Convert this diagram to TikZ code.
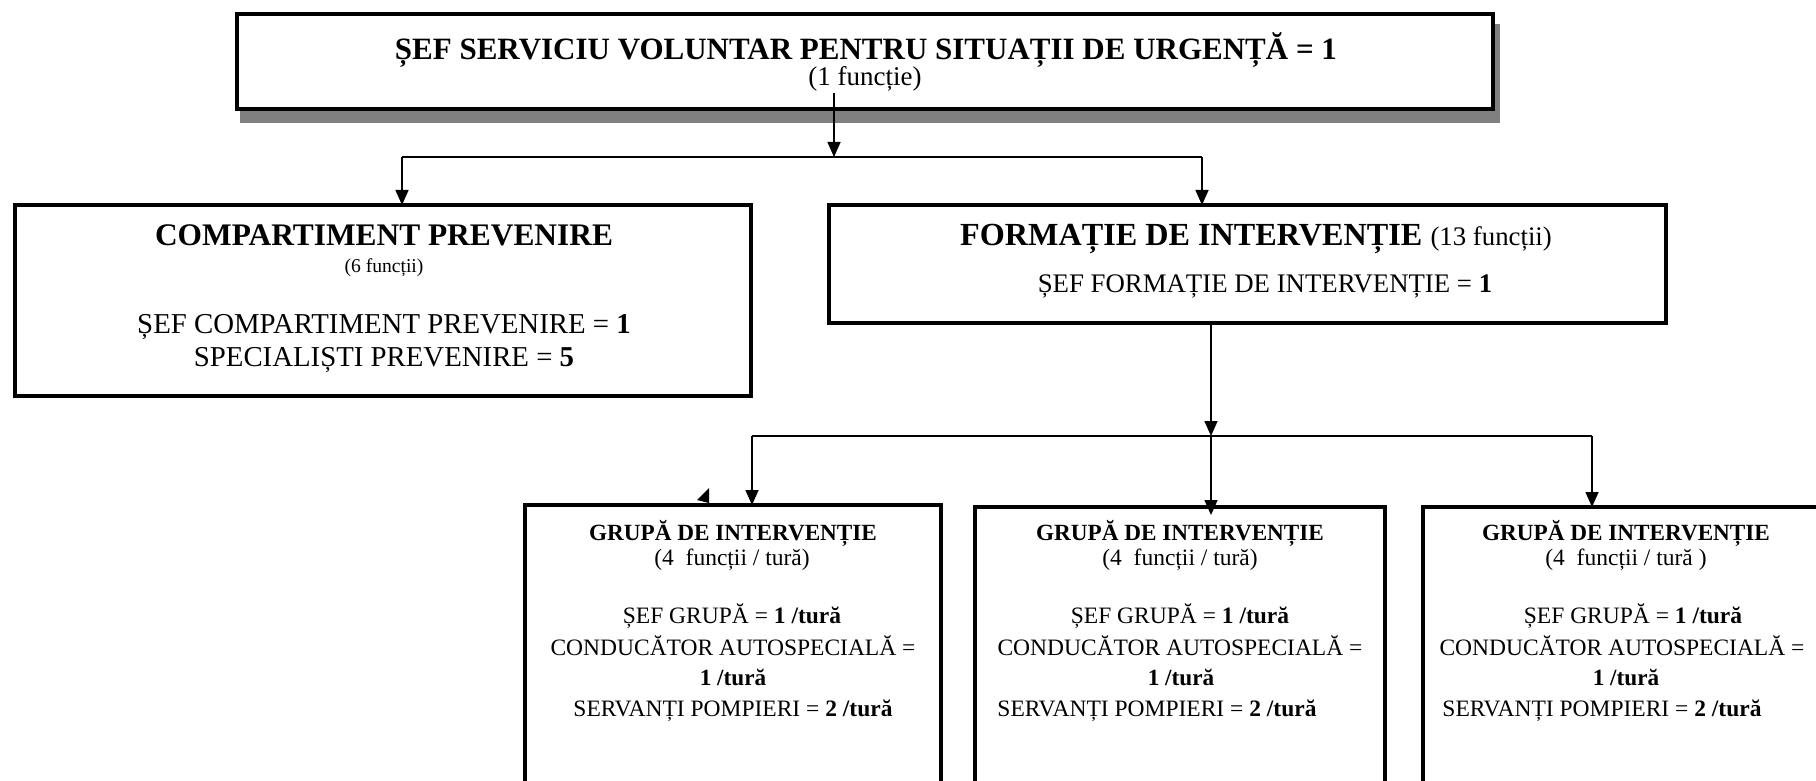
\documentclass[tikz,border=0pt]{standalone}
\usepackage{fontspec}
\setmainfont{Liberation Serif}
\usetikzlibrary{arrows.meta}
\begin{document}
\begin{tikzpicture}[x=0.5pt,y=-0.5pt,
  box/.style={draw, line width=2.2pt, fill=white, inner sep=0pt, outer sep=0pt, anchor=north west},
  shadowbox/.style={fill=black!50, draw=none, inner sep=0pt, outer sep=0pt, anchor=north west},
  conn/.style={line width=0.8pt},
  arr/.style={conn, -{Triangle[length=7.5pt,width=6.5pt]}},
  hdA/.style={font=\fontsize{15.5}{18}\selectfont\bfseries, anchor=base, inner sep=0pt},
  hdB/.style={font=\fontsize{15.7}{18}\selectfont\bfseries, anchor=base, inner sep=0pt},
  hdC/.style={font=\fontsize{16.1}{18}\selectfont\bfseries, anchor=base, inner sep=0pt},
  txtA/.style={font=\fontsize{14.4}{17}\selectfont, anchor=base, inner sep=0pt},
  txtB/.style={font=\fontsize{13.4}{16}\selectfont, anchor=base, inner sep=0pt},
  subA/.style={font=\fontsize{13.5}{16}\selectfont, anchor=base, inner sep=0pt},
  sml/.style={font=\fontsize{9.8}{12}\selectfont, anchor=base, inner sep=0pt},
  grp/.style={font=\fontsize{11.75}{14}\selectfont, anchor=base, inner sep=0pt},
  grpb/.style={font=\fontsize{11.6}{14}\selectfont\bfseries, anchor=base, inner sep=0pt}]
\useasboundingbox (0,0) rectangle (1816,781);
\clip (0,0) rectangle (1816,781);
% top box with shadow
\node[shadowbox, minimum width=630pt, minimum height=49.5pt] (sh1) at (240,24) {};
\node[box, minimum width=628pt, minimum height=47.5pt] (b1) at (237,14) {};
\node[hdA] (t1a) at (866,60) {ȘEF SERVICIU VOLUNTAR PENTRU SITUAȚII DE URGENȚĂ = 1};
\node[subA] (t1b) at (865,86) {(1 funcție)};
% second row
\node[box, minimum width=368pt, minimum height=95.5pt] (b2) at (15,205) {};
\node[hdB] (t2a) at (384,245) {COMPARTIMENT PREVENIRE};
\node[sml] (t2b) at (384,272) {(6 funcții)};
\node[txtA] (t2c) at (384,333) {ȘEF COMPARTIMENT PREVENIRE = \textbf{1}};
\node[txtA] (t2d) at (384,366) {SPECIALIȘTI PREVENIRE = \textbf{5}};
\node[box, minimum width=418.5pt, minimum height=59pt] (b3) at (829,205) {};
\node[hdC] (t3a) at (1256,245) {FORMAȚIE DE INTERVENȚIE {\mdseries\fontsize{13.4}{16}\selectfont(13 funcții)}};
\node[txtB] (t3b) at (1265,292) {ȘEF FORMAȚIE DE INTERVENȚIE = \textbf{1}};
% bottom row
\node[box, minimum width=208pt, minimum height=200pt] (b4) at (525,505) {};
\node[box, minimum width=205pt, minimum height=200pt] (b5) at (975,507) {};
\node[box, minimum width=205pt, minimum height=200pt] (b6) at (1423,507) {};
\node[grpb] (t4a) at (733,540) {GRUPĂ DE INTERVENȚIE};
\node[grp] (t4b) at (732,565) {(4\ \ funcții / tură)};
\node[grp] (t4c) at (732,623) {ȘEF GRUPĂ = \textbf{1 /tură}};
\node[grp] (t4d) at (733,655) {CONDUCĂTOR AUTOSPECIALĂ =};
\node[grpb] (t4e) at (733,685) {1 /tură};
\node[grp] (t4f) at (733,716) {SERVANȚI POMPIERI = \textbf{2 /tură}};
\node[grpb] (t5a) at (1180,540) {GRUPĂ DE INTERVENȚIE};
\node[grp] (t5b) at (1180,565) {(4\ \ funcții / tură)};
\node[grp] (t5c) at (1180,623) {ȘEF GRUPĂ = \textbf{1 /tură}};
\node[grp] (t5d) at (1180,655) {CONDUCĂTOR AUTOSPECIALĂ =};
\node[grpb] (t5e) at (1181,685) {1 /tură};
\node[grp] (t5f) at (1157,716) {SERVANȚI POMPIERI = \textbf{2 /tură}};
\node[grpb] (t6a) at (1626,540) {GRUPĂ DE INTERVENȚIE};
\node[grp] (t6b) at (1626,565) {(4\ \ funcții / tură )};
\node[grp] (t6c) at (1633,623) {ȘEF GRUPĂ = \textbf{1 /tură}};
\node[grp] (t6d) at (1622,655) {CONDUCĂTOR AUTOSPECIALĂ =};
\node[grpb] (t6e) at (1626,685) {1 /tură};
\node[grp] (t6f) at (1602,716) {SERVANȚI POMPIERI = \textbf{2 /tură}};
% connectors
\coordinate (s1) at (834,93);
\coordinate (j1) at (834,157);
\coordinate (h1l) at (402,157);
\coordinate (h1r) at (1202,157);
\draw[arr] (s1) -- (j1);
\draw[conn] (h1l) -- (h1r);
\draw[arr] (h1l) -- (b2.north -| h1l);
\draw[arr] (h1r) -- (b3.north -| h1r);
\coordinate (j2) at (1211,436);
\coordinate (h2l) at (752,436);
\coordinate (h2r) at (1592,436);
\draw[arr] (b3.south -| j2) -- (j2);
\draw[conn] (h2l) -- (h2r);
\draw[arr] (h2l) -- (b4.north -| h2l);
\draw[arr] (j2) -- ([yshift=-4pt]b5.north -| j2);
\draw[arr] (h2r) -- (b6.north -| h2r);
% stray arrowhead
\fill (709,488) -- (697,500) -- (709,503) -- cycle;
\end{tikzpicture}
\end{document}
